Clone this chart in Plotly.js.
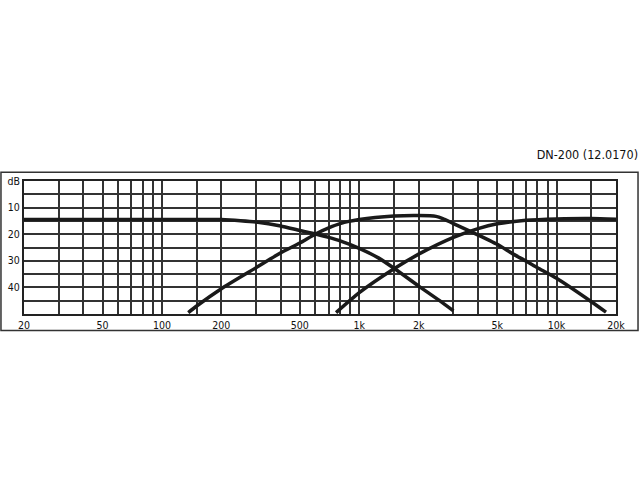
<!DOCTYPE html>
<html>
<head>
<meta charset="utf-8">
<script src="https://cdn.plot.ly/plotly-3.0.1.min.js"></script>
<style>
  html, body { margin: 0; padding: 0; background: #fff; }
  #plot { width: 640px; height: 480px; }
</style>
</head>
<body>
<div id="plot"></div>
<script>
// grid positions of the log frequency axis and their labels
const gridFreqs = [20, 30, 40, 50, 60, 70, 80, 90, 100, 150, 200, 300, 400, 500, 600, 700, 800, 900,
                   1000, 1500, 2000, 3000, 4000, 5000, 6000, 7000, 8000, 9000, 10000, 15000, 20000];
const labeledFreqs = {20: '20', 50: '50', 100: '100', 200: '200', 500: '500',
                      1000: '1k', 2000: '2k', 5000: '5k', 10000: '10k', 20000: '20k'};
const dbGrid = [0, 5, 10, 15, 20, 25, 30, 35, 40, 45, 50];
const dbLabels = ['dB', '', '10', '', '20', '', '30', '', '40', '', ''];

// low-pass branch
const lowFreq = [20, 100, 150, 200, 250, 300, 400, 500, 600, 700, 800, 1000, 1250, 1500, 2000, 2500, 3000];
const lowDb = [14.5, 14.5, 14.5, 14.5, 14.9, 15.4, 16.9, 18.6, 19.9, 21.2, 22.5, 25.3, 28.9, 32.8, 39.5, 44.5, 48.8];

// band-pass branch
const midFreq = [136, 150, 200, 300, 400, 500, 600, 700, 800, 1000, 1500, 2000, 2450, 2650, 3000, 3800, 5000, 6000, 7000, 8000, 10000, 15000, 17800];
const midDb = [49.5, 47.0, 40.5, 32.6, 27.0, 23.3, 19.9, 17.6, 16.0, 14.5, 13.2, 13.0, 13.3, 14.1, 16.0, 19.5, 23.8, 27.4, 30.1, 32.6, 36.6, 45.4, 49.3];

// high-pass branch
const highFreq = [763, 1000, 1500, 2000, 3000, 4000, 5000, 7000, 10000, 15000, 20000];
const highDb = [49.5, 42.0, 33.0, 27.5, 21.2, 17.9, 16.1, 14.75, 14.25, 14.1, 14.4];

const curveStyle = {color: '#1a1a1a', width: 3.5, shape: 'spline', smoothing: 0.6};

function curve(x, y) {
    return {x: x, y: y, type: 'scatter', mode: 'lines', line: curveStyle, hoverinfo: 'skip'};
}

const data = [
    curve(lowFreq, lowDb),
    curve(midFreq, midDb),
    curve(highFreq, highDb)
];

const font = {family: '"DejaVu Sans Condensed", "DejaVu Sans", sans-serif', color: '#111'};

const layout = {
    width: 640,
    height: 480,
    margin: {l: 24, r: 24, t: 181, b: 166},
    paper_bgcolor: '#fff',
    plot_bgcolor: '#fff',
    showlegend: false,
    font: font,
    title: {
        text: 'DN-200 (12.0170)',
        xref: 'container', yref: 'container',
        x: 0.997, xanchor: 'right',
        y: 0.677, yanchor: 'middle',
        font: {family: font.family, size: 12.5, color: '#111'}
    },
    xaxis: {
        type: 'log',
        range: [Math.log10(20), Math.log10(20000)],
        tickmode: 'array',
        tickvals: gridFreqs,
        ticktext: gridFreqs.map(f => labeledFreqs[f] || ''),
        ticks: '',
        tickfont: {size: 10.5},
        showgrid: true, gridcolor: '#333', gridwidth: 2,
        showline: true, mirror: true, linecolor: '#222', linewidth: 2,
        zeroline: false, fixedrange: true
    },
    yaxis: {
        range: [50, 0],
        tickmode: 'array',
        tickvals: dbGrid,
        ticktext: dbLabels,
        ticks: '',
        tickfont: {size: 10.5},
        showgrid: true, gridcolor: '#333', gridwidth: 2,
        showline: true, mirror: true, linecolor: '#222', linewidth: 2,
        zeroline: false, fixedrange: true
    },
    shapes: [{
        type: 'rect', xref: 'paper', yref: 'paper',
        x0: -0.0389, x1: 1.0372, y0: -0.1235, y1: 1.0651,
        line: {color: '#333', width: 1.5}
    }]
};

Plotly.newPlot('plot', data, layout, {staticPlot: true});
</script>
</body>
</html>
